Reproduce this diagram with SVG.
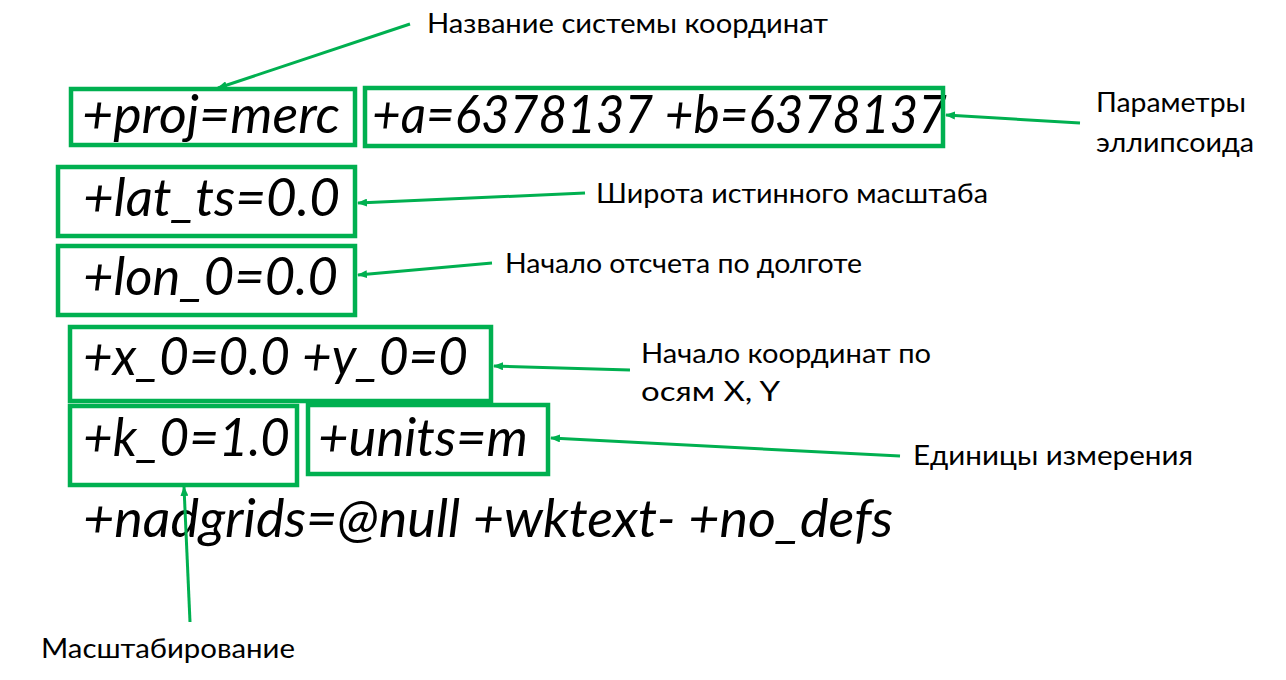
<svg xmlns="http://www.w3.org/2000/svg" width="1286" height="680" viewBox="0 0 1286 680">
<defs>
<marker id="ah" markerWidth="10" markerHeight="8" refX="9" refY="4" orient="auto" markerUnits="userSpaceOnUse">
<path d="M0,0 L10,4 L0,8 Z" fill="#00B050"/>
</marker>
<style>
.box{fill:none;stroke:#00B050;stroke-width:4.5}
.code{font-family:Lato,"Open Sans",sans-serif;font-style:italic;font-size:52px;fill:#000}
.lbl{font-family:Lato,"Open Sans",sans-serif;font-size:26px;fill:#000}
.conn{stroke:#00B050;stroke-width:3;fill:none;marker-end:url(#ah)}
</style>
</defs>
<rect width="1286" height="680" fill="#fff"/>
<g id="n-proj"><rect class="box" x="71" y="89" width="284" height="56"/><text class="code" x="82" y="133" textLength="258" lengthAdjust="spacingAndGlyphs">+proj=merc</text></g>
<g id="n-ab"><text class="code" x="372" y="133" textLength="575" lengthAdjust="spacingAndGlyphs">+a=6378137 +b=6378137</text><rect class="box" x="365" y="88" width="578" height="58"/></g>
<g id="n-lat"><rect class="box" x="58" y="167" width="297" height="69"/><text class="code" x="83" y="216" textLength="257" lengthAdjust="spacingAndGlyphs">+lat_ts=0.0</text></g>
<g id="n-lon"><rect class="box" x="58" y="246" width="297" height="69"/><text class="code" x="83" y="295" textLength="255" lengthAdjust="spacingAndGlyphs">+lon_0=0.0</text></g>
<g id="n-xy"><rect class="box" x="70" y="327" width="421" height="74"/><text class="code" x="83" y="375" textLength="385" lengthAdjust="spacingAndGlyphs">+x_0=0.0 +y_0=0</text></g>
<g id="n-k"><rect class="box" x="70" y="406" width="227" height="79"/><text class="code" x="83" y="456" textLength="207" lengthAdjust="spacingAndGlyphs">+k_0=1.0</text></g>
<g id="n-units"><rect class="box" x="308" y="405" width="240" height="69"/><text class="code" x="318" y="456" textLength="210" lengthAdjust="spacingAndGlyphs">+units=m</text></g>
<g id="n-nad"><text class="code" x="83" y="537" textLength="810" lengthAdjust="spacingAndGlyphs">+nadgrids=@null +wktext- +no_defs</text></g>
<g id="labels">
<text class="lbl" x="427" y="33" textLength="401" lengthAdjust="spacingAndGlyphs">Название системы координат</text>
<text class="lbl" x="1096" y="112" textLength="150" lengthAdjust="spacingAndGlyphs">Параметры</text>
<text class="lbl" x="1096" y="152" textLength="158" lengthAdjust="spacingAndGlyphs">эллипсоида</text>
<text class="lbl" x="596" y="203" textLength="392" lengthAdjust="spacingAndGlyphs">Широта истинного масштаба</text>
<text class="lbl" x="505" y="273" textLength="357" lengthAdjust="spacingAndGlyphs">Начало отсчета по долготе</text>
<text class="lbl" x="641" y="363" textLength="290" lengthAdjust="spacingAndGlyphs">Начало координат по</text>
<text class="lbl" x="641" y="401" textLength="139" lengthAdjust="spacingAndGlyphs">осям X, Y</text>
<text class="lbl" x="913" y="465" textLength="280" lengthAdjust="spacingAndGlyphs">Единицы измерения</text>
<text class="lbl" x="41" y="658" textLength="254" lengthAdjust="spacingAndGlyphs">Масштабирование</text>
</g>
<g id="connectors">
<line class="conn" x1="410" y1="24" x2="218" y2="88"/>
<line class="conn" x1="1080" y1="123" x2="946" y2="115"/>
<line class="conn" x1="585" y1="193" x2="358" y2="203"/>
<line class="conn" x1="492" y1="263" x2="358" y2="275"/>
<line class="conn" x1="630" y1="370" x2="494" y2="366"/>
<line class="conn" x1="900" y1="456" x2="551" y2="438"/>
<line class="conn" x1="190" y1="622" x2="184" y2="487"/>
</g>
</svg>
